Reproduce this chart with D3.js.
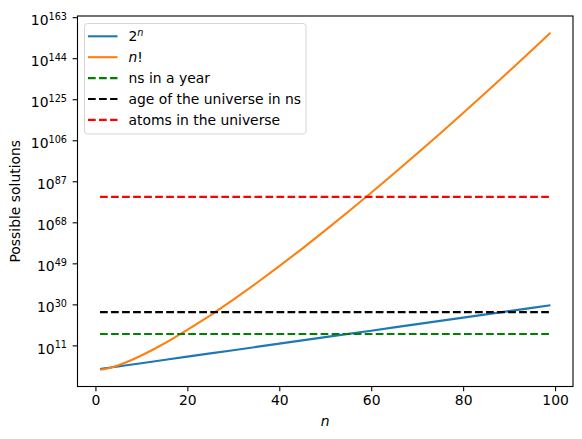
<!DOCTYPE html>
<html>
<head>
  <meta charset="utf-8">
  <title>Possible solutions</title>
  <script src="https://d3js.org/d3.v7.min.js"></script>
  <style>
    body { margin: 0; background: #fff; }
    svg { display: block; font-family: 'DejaVu Sans', sans-serif; }
  </style>
</head>
<body>
<script>
// values
var nValues = [1, 2, 3, 4, 5, 6, 8, 10, 13, 16, 20, 25, 30, 35, 40, 45, 50, 55, 60, 65, 70, 75, 80, 85, 90, 95, 99];
var powTwo = [2, 4, 8, 16, 32, 64, 256, 1024, 8192, 65536, 1.05e6, 3.36e7, 1.07e9, 3.44e10, 1.10e12,
  3.52e13, 1.13e15, 3.60e16, 1.15e18, 3.69e19, 1.18e21, 3.78e22, 1.21e24, 3.87e25, 1.24e27, 3.96e28, 6.34e29];
var factorial = [1, 2, 6, 24, 120, 720, 40320, 3.63e6, 6.23e9, 2.09e13, 2.43e18, 1.55e25, 2.65e32, 1.03e40,
  8.16e47, 1.20e56, 3.04e64, 1.27e73, 8.32e81, 8.25e90, 1.20e100, 2.48e109, 7.16e118, 2.82e128, 1.49e138,
  1.03e148, 9.33e155];
var refNames = ['ns in a year', 'age of the universe in ns', 'atoms in the universe'];
var refValues = [3.15e16, 4.35e26, 1e80];
var refColors = ['#008000', '#000000', '#ff0000'];
var xTicks = [0, 20, 40, 60, 80, 100];
var yTickExps = [11, 30, 49, 68, 87, 106, 125, 144, 163];

var W = 582, H = 439;
// note: "top" is taken by window.top, so the margins get their own names
var axLeft = 77.5, axRight = 573, axTop = 16, axBottom = 386.5;

var svg = d3.select(document.body).append('svg')
  .attr('width', W).attr('height', H);

var x = d3.scaleLinear().domain([-3.9, 103.9]).range([axLeft, axRight]);
var y = d3.scaleLog().domain([Math.pow(10, -7.8), Math.pow(10, 163.77)]).range([axBottom, axTop]);

var line = d3.line()
  .x(function (d) { return x(d[0]); })
  .y(function (d) { return y(d[1]); });

var plot = svg.append('g');
plot.append('path')
  .datum(d3.zip(nValues, powTwo))
  .attr('d', line).attr('fill', 'none')
  .attr('stroke', '#1f77b4').attr('stroke-width', 2.08);
plot.append('path')
  .datum(d3.zip(nValues, factorial))
  .attr('d', line).attr('fill', 'none')
  .attr('stroke', '#ff7f0e').attr('stroke-width', 2.08);
plot.selectAll('line.ref')
  .data(refValues)
  .enter().append('line')
  .attr('class', 'ref')
  .attr('x1', x(nValues[0])).attr('x2', x(nValues[nValues.length - 1]))
  .attr('y1', function (d) { return y(d); })
  .attr('y2', function (d) { return y(d); })
  .attr('stroke', function (d, i) { return refColors[i]; })
  .attr('stroke-width', 2.08)
  .attr('stroke-dasharray', '7.7,3.33');

// x axis
var xAxis = svg.append('g').attr('transform', 'translate(0,' + axBottom + ')')
  .call(d3.axisBottom(x).tickValues(xTicks).tickSize(4.86).tickPadding(4.2));
xAxis.select('.domain').remove();
xAxis.selectAll('line').attr('stroke', '#000').attr('stroke-width', 1.1);
xAxis.selectAll('text').attr('font-size', 13.9).attr('fill', '#000')
  .attr('font-family', "'DejaVu Sans', sans-serif");

// y axis with 10^k labels
var yAxis = svg.append('g').attr('transform', 'translate(' + axLeft + ',0)');
var yt = yAxis.selectAll('g.tick')
  .data(yTickExps)
  .enter().append('g')
  .attr('class', 'tick')
  .attr('transform', function (d) { return 'translate(0,' + y(Math.pow(10, d)) + ')'; });
yt.append('line').attr('x1', 0).attr('x2', -4.86)
  .attr('stroke', '#000').attr('stroke-width', 1.1);
var lab = yt.append('text')
  .attr('x', -10.5).attr('y', 7.6)
  .attr('text-anchor', 'end')
  .attr('fill', '#000');
lab.append('tspan').attr('font-size', 13.9).text('10');
lab.append('tspan').attr('font-size', 9.7).attr('dy', -5.2)
  .text(function (d) { return d; });

// frame
svg.append('rect')
  .attr('x', axLeft).attr('y', axTop)
  .attr('width', axRight - axLeft).attr('height', axBottom - axTop)
  .attr('fill', 'none').attr('stroke', '#000').attr('stroke-width', 1.1);

// axis labels
svg.append('text')
  .attr('x', (axLeft + axRight) / 2).attr('y', 426)
  .attr('text-anchor', 'middle').attr('font-size', 13.9)
  .attr('font-style', 'italic').text('n');
svg.append('text')
  .attr('transform', 'translate(20,' + (axTop + axBottom) / 2 + ') rotate(-90)')
  .attr('text-anchor', 'middle').attr('font-size', 13.9)
  .text('Possible solutions');

// legend
var legendItems = [
  { color: '#1f77b4', dash: null },
  { color: '#ff7f0e', dash: null }
].concat(refColors.map(function (c) { return { color: c, dash: '7.7,3.33' }; }));

var lg = svg.append('g');
lg.append('rect')
  .attr('x', 84.5).attr('y', 23.5).attr('width', 221.5).attr('height', 110.5)
  .attr('rx', 3).attr('fill', '#fff').attr('fill-opacity', 0.8)
  .attr('stroke', '#d6d6d6').attr('stroke-width', 1);
var rows = lg.selectAll('g.row')
  .data(legendItems)
  .enter().append('g')
  .attr('class', 'row')
  .attr('transform', function (d, i) { return 'translate(0,' + (36.3 + i * 20.9) + ')'; });
rows.append('line')
  .attr('x1', 88).attr('x2', 117.5)
  .attr('stroke', function (d) { return d.color; })
  .attr('stroke-width', 2.08)
  .attr('stroke-dasharray', function (d) { return d.dash; });
var lt = rows.append('text')
  .attr('x', 128.5).attr('y', 5)
  .attr('font-size', 13.9).attr('fill', '#000');
lt.each(function (d, i) {
  var t = d3.select(this);
  if (i === 0) {
    t.append('tspan').text('2');
    t.append('tspan').attr('font-size', 9.7).attr('font-style', 'italic').attr('dy', -5.5).text('n');
  } else if (i === 1) {
    t.append('tspan').attr('font-style', 'italic').text('n');
    t.append('tspan').text('!');
  } else {
    t.text(refNames[i - 2]);
  }
});
</script>
</body>
</html>
